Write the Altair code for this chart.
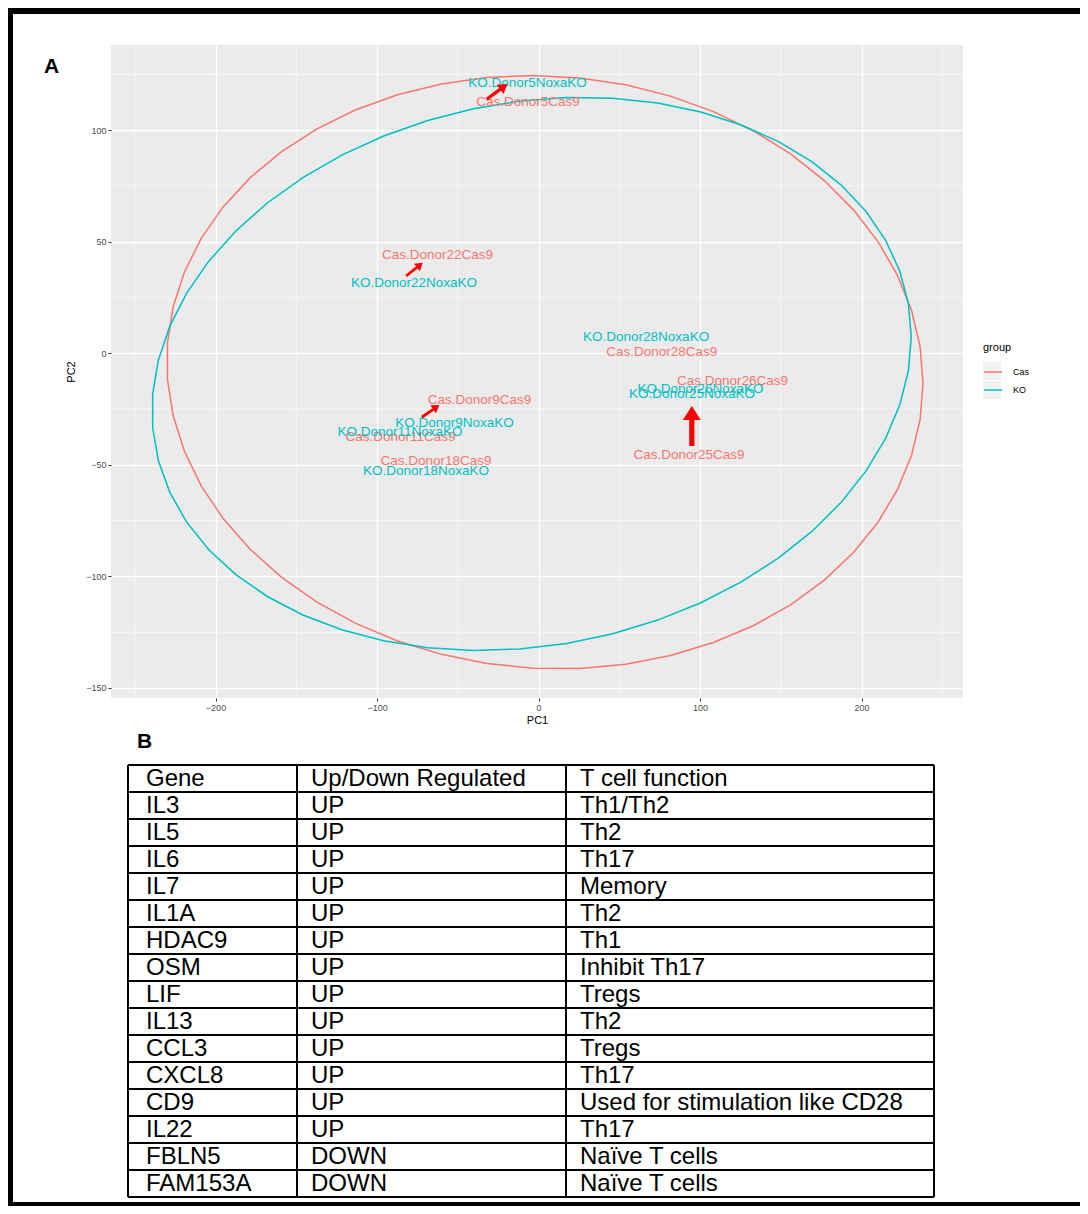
import math
import numpy as np
import pandas as pd
import altair as alt

# ---------------- data ----------------
cas_labels = ["Cas.Donor5Cas9", "Cas.Donor22Cas9", "Cas.Donor28Cas9", "Cas.Donor26Cas9",
              "Cas.Donor9Cas9", "Cas.Donor11Cas9", "Cas.Donor18Cas9", "Cas.Donor25Cas9"]
cas_pc1 = [-6.5, -62.5, 76.3, 120.1, -36.5, -85.4, -63.5, 93.2]
cas_pc2 = [112.7, 44.0, 0.4, -12.5, -21.0, -37.7, -48.3, -45.6]

ko_labels = ["KO.Donor5NoxaKO", "KO.Donor22NoxaKO", "KO.Donor28NoxaKO", "KO.Donor26NoxaKO",
             "KO.Donor25NoxaKO", "KO.Donor9NoxaKO", "KO.Donor11NoxaKO", "KO.Donor18NoxaKO"]
ko_pc1 = [-6.8, -77.1, 66.6, 100.3, 95.0, -52.0, -85.8, -69.7]
ko_pc2 = [121.2, 31.3, 7.1, -16.2, -18.3, -31.1, -35.2, -52.6]

groups = ["Cas", "KO"]
group_colors = ["#F8766D", "#00BFC4"]

x_ticks = [-200, -100, 0, 100, 200]
y_ticks = [-150, -100, -50, 0, 50, 100]

# red annotation arrows (tail -> tip, in PC units)
arrow_tail_pc1 = [-32.1, -82.0, -72.3, 94.9]
arrow_tail_pc2 = [113.8, 34.6, -28.7, -41.6]
arrow_tip_pc1 = [-19.3, -71.7, -61.4, 94.9]
arrow_tip_pc2 = [120.6, 40.5, -23.2, -23.7]

table_header = ["Gene", "Up/Down Regulated", "T cell function"]
genes = ["IL3", "IL5", "IL6", "IL7", "IL1A", "HDAC9", "OSM", "LIF", "IL13", "CCL3",
         "CXCL8", "CD9", "IL22", "FBLN5", "FAM153A"]
regulation = ["UP", "UP", "UP", "UP", "UP", "UP", "UP", "UP", "UP", "UP",
              "UP", "UP", "UP", "DOWN", "DOWN"]
functions = ["Th1/Th2", "Th2", "Th17", "Memory", "Th2", "Th1", "Inhibit Th17", "Tregs",
             "Th2", "Tregs", "Th17", "Used for stimulation like CD28", "Th17",
             "Naïve T cells", "Naïve T cells"]

# ---------------- layout constants ----------------
PLOT_W, PLOT_H = 852, 653
X_DOMAIN = [-264.7, 262.8]
Y_DOMAIN = [-154.5, 138.1]
PAGE_W, PAGE_H = 1088, 1214
OX, OY = 111, 45           # plot origin in page pixels
TABLE_COLS = [128, 297, 566, 934]
TEXT_OFF = [18, 14, 14]
TABLE_TOP = 765
ROW_H = 27.0
LEGEND_X, LEGEND_Y = 983, 342
KEY_W, KEY_H = 18, 18
KEY_STEP = 19

# ---------------- stat_ellipse (ggplot2 type="t") ----------------
def cov_trob(X, nu=5, maxit=25, tol=0.01):
    n, p = X.shape
    loc = X.mean(axis=0)
    w = np.ones(n)
    Xc = X - loc
    for _ in range(maxit):
        w0 = w
        Xc = X - loc
        A = np.sqrt(w / w.sum())[:, None] * Xc
        _, d, Vt = np.linalg.svd(A, full_matrices=False)
        wX = Xc @ Vt.T @ np.diag(1.0 / d)
        Q = (wX ** 2).sum(axis=1)
        w = (nu + p) / (nu + Q)
        loc = (w[:, None] * X).sum(axis=0) / w.sum()
        if np.all(np.abs(w - w0) < tol):
            break
    B = np.sqrt(w)[:, None] * Xc
    return loc, B.T @ B / n


def stat_ellipse(x, y, level=0.95, segments=51):
    X = np.column_stack([x, y]).astype(float)
    n = X.shape[0]
    center, shape = cov_trob(X)
    dfd = n - 1
    fq = dfd / 2.0 * ((1 - level) ** (-2.0 / dfd) - 1)
    radius = math.sqrt(2 * fq)
    R = np.linalg.cholesky(shape).T
    ang = np.arange(segments + 1) * 2 * np.pi / segments
    circ = np.column_stack([np.cos(ang), np.sin(ang)])
    return center + radius * circ @ R


# ---------------- data frames ----------------
points_df = pd.DataFrame({
    "PC1": cas_pc1 + ko_pc1,
    "PC2": cas_pc2 + ko_pc2,
    "label": cas_labels + ko_labels,
    "group": ["Cas"] * len(cas_labels) + ["KO"] * len(ko_labels),
})

ell_frames = []
for g, xs, ys in [("Cas", cas_pc1, cas_pc2), ("KO", ko_pc1, ko_pc2)]:
    e = stat_ellipse(xs, ys)
    ell_frames.append(pd.DataFrame({"PC1": e[:, 0], "PC2": e[:, 1], "group": g,
                                    "idx": np.arange(len(e))}))
ell_df = pd.concat(ell_frames, ignore_index=True)

px_x = PLOT_W / (X_DOMAIN[1] - X_DOMAIN[0])
px_y = PLOT_H / (Y_DOMAIN[1] - Y_DOMAIN[0])
arrows = []
for tx, ty, hx, hy in zip(arrow_tail_pc1, arrow_tail_pc2, arrow_tip_pc1, arrow_tip_pc2):
    dx = (hx - tx) * px_x
    dy = -(hy - ty) * px_y
    arrows.append({
        "PC1": (tx + hx) / 2, "PC2": (ty + hy) / 2,
        "angle": math.degrees(math.atan2(dx, -dy)) % 360,
        "size": (math.hypot(dx, dy)) ** 2,
    })
arrow_df = pd.DataFrame(arrows)

x_step = x_ticks[1] - x_ticks[0]
y_step = y_ticks[1] - y_ticks[0]
x_minor = [t + x_step / 2 for t in [x_ticks[0] - x_step] + x_ticks
           if X_DOMAIN[0] <= t + x_step / 2 <= X_DOMAIN[1]]
y_minor = [t + y_step / 2 for t in [y_ticks[0] - y_step] + y_ticks
           if Y_DOMAIN[0] <= t + y_step / 2 <= Y_DOMAIN[1]]
xminor_df = pd.DataFrame({"PC1": x_minor})
yminor_df = pd.DataFrame({"PC2": y_minor})

# ---------------- plot encodings ----------------
def xenc():
    return alt.X("PC1:Q", scale=alt.Scale(domain=X_DOMAIN, nice=False, zero=False),
                 axis=alt.Axis(values=x_ticks, title="PC1", grid=True, gridColor="white",
                               gridWidth=1.3, domain=False, tickColor="#333333", tickSize=3,
                               labelColor="#4D4D4D", labelFontSize=9, labelPadding=2,
                               titleFontSize=11, titleFontWeight="normal", titlePadding=2,
                               titleColor="black"))


def yenc():
    return alt.Y("PC2:Q", scale=alt.Scale(domain=Y_DOMAIN, nice=False, zero=False),
                 axis=alt.Axis(values=y_ticks, title="PC2", grid=True, gridColor="white",
                               gridWidth=1.3, domain=False, tickColor="#333333", tickSize=3,
                               labelColor="#4D4D4D", labelFontSize=9, labelPadding=2,
                               titleFontSize=11, titleFontWeight="normal", titlePadding=9,
                               titleColor="black"))


legend = alt.Legend(title="group", orient="none", legendX=LEGEND_X - OX, legendY=LEGEND_Y - OY,
                    titleFontSize=11, titleFontWeight="normal", titleColor="black",
                    labelFontSize=9, labelColor="black", symbolType="stroke",
                    symbolStrokeWidth=1.5, symbolSize=KEY_W * KEY_W, titlePadding=9,
                    rowPadding=3, labelOffset=10)
color_enc = alt.Color("group:N", scale=alt.Scale(domain=groups, range=group_colors),
                      legend=legend)

minor_v = alt.Chart(xminor_df).mark_rule(color="white", strokeWidth=0.6).encode(x=xenc())
minor_h = alt.Chart(yminor_df).mark_rule(color="white", strokeWidth=0.6).encode(y=yenc())

ellipses = alt.Chart(ell_df).mark_line(strokeWidth=1.5).encode(
    x=xenc(), y=yenc(), color=color_enc, detail="group:N", order="idx:Q")

labels = alt.Chart(points_df).mark_text(fontSize=13.5, align="center", baseline="middle").encode(
    x=xenc(), y=yenc(), text="label:N", color=color_enc)

ARROW_PATH = "M-0.13,1L0.13,1L0.13,-0.3L0.45,-0.3L0,-1L-0.45,-0.3L-0.13,-0.3Z"
arrow_layer = alt.Chart(arrow_df).mark_point(shape=ARROW_PATH, filled=True, color="#FF0000",
                                             opacity=1, strokeWidth=0).encode(
    x=xenc(), y=yenc(),
    angle=alt.Angle("angle:Q", scale=None),
    size=alt.Size("size:Q", scale=None))

plot = alt.layer(minor_v, minor_h, ellipses, labels, arrow_layer)

# ---------------- page-pixel layers (table, frame, panel letters, legend keys) ----------------
def pxx(field="x"):
    return alt.X(f"{field}:Q", scale=alt.Scale(domain=[0, PAGE_W], range=[-OX, PAGE_W - OX],
                                               nice=False, zero=False), axis=None)


def pxy(field="y"):
    return alt.Y(f"{field}:Q", scale=alt.Scale(domain=[0, PAGE_H], range=[-OY, PAGE_H - OY],
                                               nice=False, zero=False), axis=None)


n_rows = len(genes) + 1
table_bottom = TABLE_TOP + n_rows * ROW_H
hlines = [{"x": TABLE_COLS[0], "x2": TABLE_COLS[-1], "y": TABLE_TOP + i * ROW_H,
           "y2": TABLE_TOP + i * ROW_H} for i in range(n_rows + 1)]
vlines = [{"x": c, "x2": c, "y": TABLE_TOP, "y2": table_bottom} for c in TABLE_COLS]
lines_df = pd.DataFrame(hlines + vlines)

cells = []
rows = [table_header] + [list(r) for r in zip(genes, regulation, functions)]
for i, row in enumerate(rows):
    for j, txt in enumerate(row):
        cells.append({"x": TABLE_COLS[j] + TEXT_OFF[j], "y": TABLE_TOP + (i + 0.5) * ROW_H,
                      "text": txt})
cells_df = pd.DataFrame(cells)

frame_df = pd.DataFrame([
    {"x": 8, "x2": 1080, "y": 8, "y2": 14},
    {"x": 8, "x2": 13, "y": 8, "y2": 1206},
    {"x": 8, "x2": 1080, "y": 1202, "y2": 1206},
])

# grey key backgrounds behind the legend glyphs (ggplot legend.key)
key_top = LEGEND_Y + 20
keys_df = pd.DataFrame([
    {"x": LEGEND_X, "x2": LEGEND_X + KEY_W, "y": key_top + k * KEY_STEP,
     "y2": key_top + k * KEY_STEP + KEY_H} for k in range(len(groups))
])

letters_df = pd.DataFrame([{"x": 44, "y": 67, "text": "A"}, {"x": 137, "y": 742, "text": "B"}])

frame = alt.Chart(frame_df).mark_rect(color="black", clip=False).encode(
    x=pxx(), x2="x2:Q", y=pxy(), y2="y2:Q")
keys = alt.Chart(keys_df).mark_rect(color="#F2F2F2", clip=False).encode(
    x=pxx(), x2="x2:Q", y=pxy(), y2="y2:Q")
table_lines = alt.Chart(lines_df).mark_rule(color="black", strokeWidth=2, clip=False).encode(
    x=pxx(), x2="x2:Q", y=pxy(), y2="y2:Q")
table_text = alt.Chart(cells_df).mark_text(align="left", baseline="middle", fontSize=24,
                                           color="black", clip=False).encode(
    x=pxx(), y=pxy(), text="text:N")
letters = alt.Chart(letters_df).mark_text(align="left", baseline="middle", fontSize=21,
                                          fontWeight="bold", color="black", clip=False).encode(
    x=pxx(), y=pxy(), text="text:N")

page = alt.layer(frame, keys, table_lines, table_text, letters)

chart = alt.layer(plot, page).resolve_scale(x="independent", y="independent").properties(
    width=PLOT_W, height=PLOT_H, padding=0
).configure(font="Liberation Sans").configure_view(fill="#EBEBEB", stroke=None)

chart.save("out.html", embed_options={"renderer": "svg", "actions": False})
